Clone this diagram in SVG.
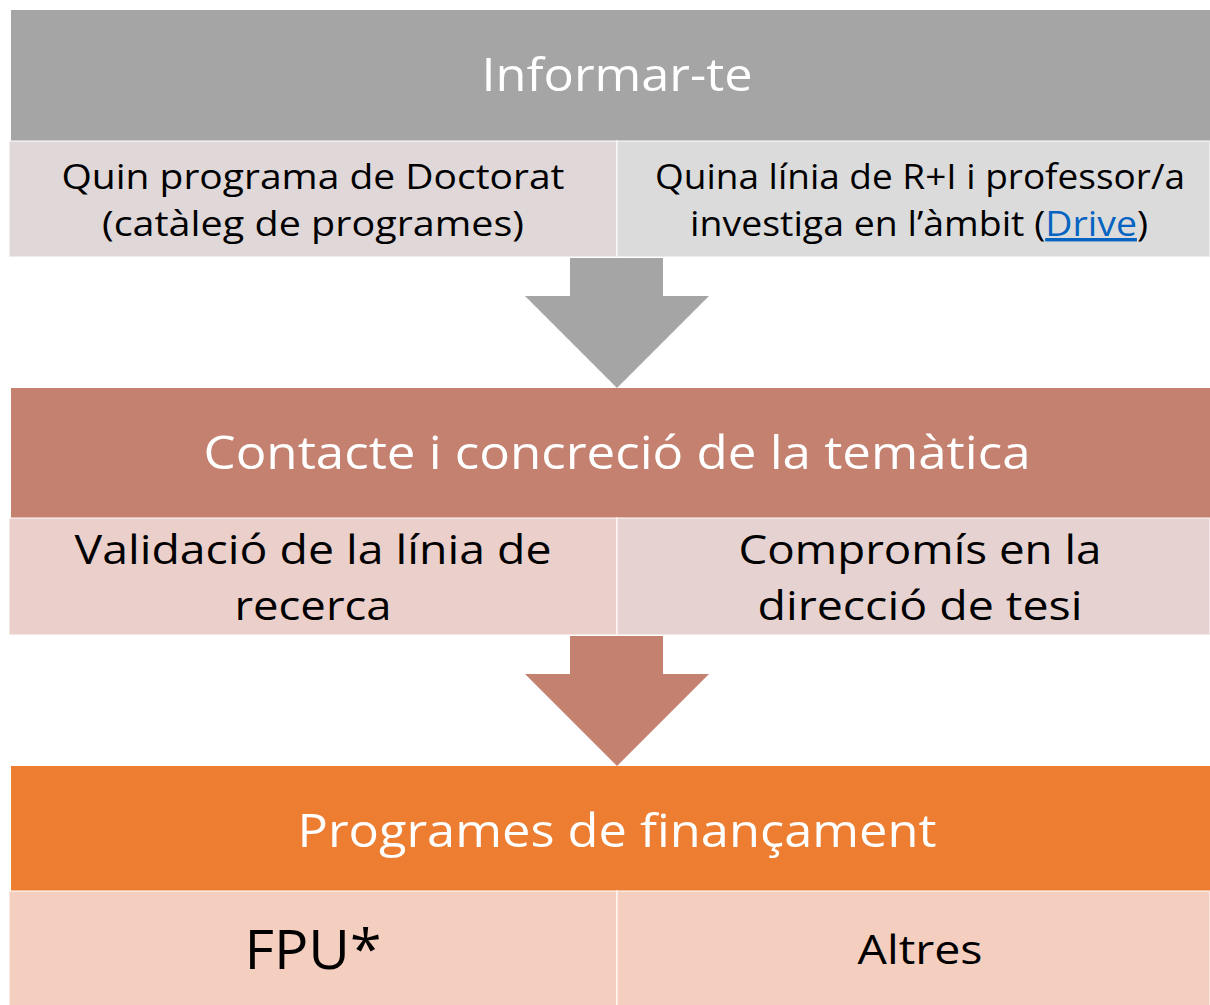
<svg xmlns="http://www.w3.org/2000/svg" width="1210" height="1005" viewBox="0 0 1210 1005">
<style>
text{font-family:"Open Sans","Liberation Sans",sans-serif;text-anchor:middle}
.h{fill:#ffffff;font-size:46px}
.s{fill:#000000;font-size:34px}
.m{fill:#000000;font-size:41px}
.cell{stroke:#ffffff;stroke-opacity:0.5;stroke-width:2}
</style>
<rect width="1210" height="1005" fill="#ffffff"/>
<g id="informar">
<rect x="11" y="10" width="1199" height="131" fill="#A5A5A5"/>
<text class="h" x="617" y="91" textLength="271" lengthAdjust="spacingAndGlyphs">Informar-te</text>
</g>
<g id="programa">
<rect class="cell" x="9" y="141" width="608" height="116" fill="#DFD7D8"/>
<text class="s" x="313" y="189" textLength="503" lengthAdjust="spacingAndGlyphs">Quin programa de Doctorat</text>
<text class="s" x="313" y="236" textLength="422" lengthAdjust="spacingAndGlyphs">(catàleg de programes)</text>
</g>
<g id="linia">
<rect class="cell" x="617" y="141" width="593" height="116" fill="#DBDBDB"/>
<text class="s" x="920" y="189" textLength="530" lengthAdjust="spacingAndGlyphs">Quina línia de R+I i professor/a</text>
<text class="s" x="919" y="236" textLength="458" lengthAdjust="spacingAndGlyphs">investiga en l’àmbit (<tspan fill="#0563C1" text-decoration="underline">Drive</tspan>)</text>
</g>
<g id="contacte">
<rect x="11" y="388" width="1199" height="130" fill="#C48170"/>
<text class="h" x="617" y="469" textLength="827" lengthAdjust="spacingAndGlyphs">Contacte i concreció de la temàtica</text>
</g>
<g id="validacio">
<rect class="cell" x="9" y="518" width="608" height="117" fill="#EBCFCB"/>
<text class="m" x="313" y="564" textLength="477" lengthAdjust="spacingAndGlyphs">Validació de la línia de</text>
<text class="m" x="313" y="620" textLength="157" lengthAdjust="spacingAndGlyphs">recerca</text>
</g>
<g id="compromis">
<rect class="cell" x="617" y="518" width="593" height="117" fill="#E6D3D1"/>
<text class="m" x="920" y="564" textLength="363" lengthAdjust="spacingAndGlyphs">Compromís en la</text>
<text class="m" x="920" y="620" textLength="325" lengthAdjust="spacingAndGlyphs">direcció de tesi</text>
</g>
<g id="financament">
<rect x="11" y="766" width="1199" height="125" fill="#ED7D31"/>
<text class="h" x="617" y="847" textLength="639" lengthAdjust="spacingAndGlyphs">Programes de finançament</text>
</g>
<g id="fpu">
<rect class="cell" x="9" y="891" width="608" height="115" fill="#F4CEBF"/>
<text x="313" y="969" style="font-size:54px;fill:#000" textLength="137" lengthAdjust="spacingAndGlyphs">FPU*</text>
</g>
<g id="altres">
<rect class="cell" x="617" y="891" width="593" height="115" fill="#F4CEBF"/>
<text x="920" y="964" style="font-size:40px;fill:#000" textLength="125" lengthAdjust="spacingAndGlyphs">Altres</text>
</g>
<g id="connectors">
<polygon points="570,258 663,258 663,296 709,296 617,388 525,296 570,296" fill="#A5A5A5"/>
<polygon points="570,636 663,636 663,674 709,674 617,766 525,674 570,674" fill="#C48170"/>
</g>
</svg>
